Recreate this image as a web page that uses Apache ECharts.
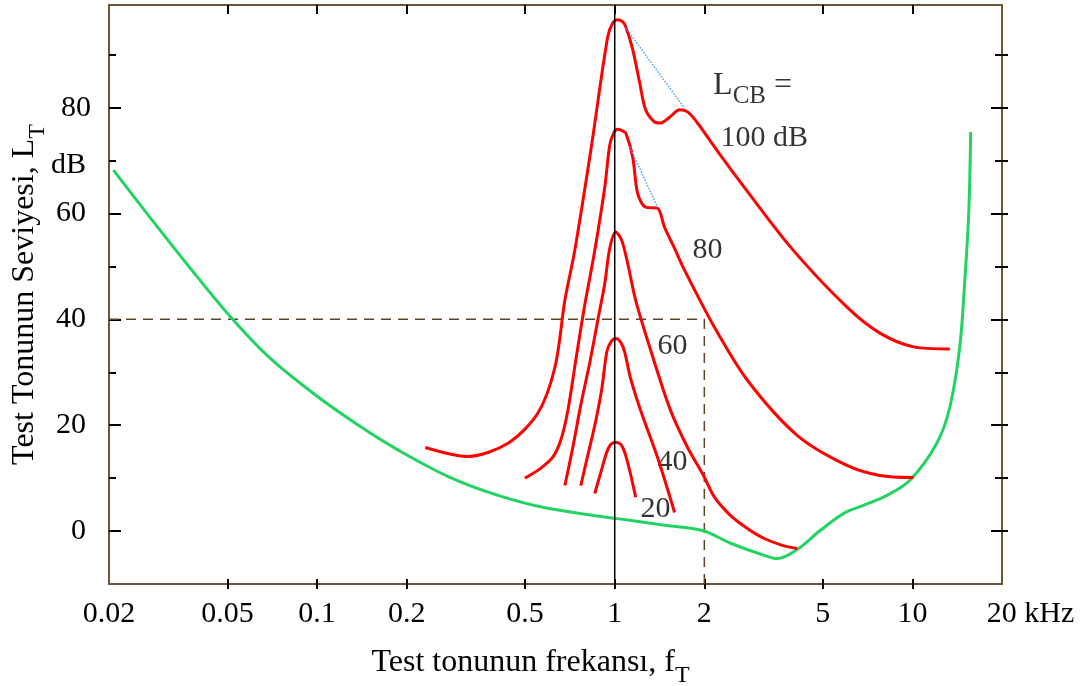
<!DOCTYPE html>
<html><head><meta charset="utf-8">
<script src="https://cdn.jsdelivr.net/npm/echarts@6/dist/echarts.min.js"></script>
<style>html,body{margin:0;padding:0;background:#fff}#c{width:1085px;height:686px}</style>
</head><body><div id="c"></div>
<script>
// ---- data (frequency in kHz, level in dB) ----
const xTickValues = [0.02, 0.05, 0.1, 0.2, 0.5, 1, 2, 5, 10, 20];
const xTickLabels = ['0.02', '0.05', '0.1', '0.2', '0.5', '1', '2', '5', '10', '20 kHz'];
const xInnerTicks = [0.05, 0.1, 0.2, 0.5, 1, 2, 5, 10];
const yMajorTicks = [0, 20, 40, 60, 80];
const yMinorTicks = [10, 30, 50, 70, 90];
const yLabelValues = [0, 20, 40, 60, 69.2];
const yLabelTexts = ['0', '20', '40', '60', 'dB'];

const thresholdFreq  = [0.0207, 0.02725, 0.0371, 0.0517, 0.0688, 0.098, 0.1377, 0.1875, 0.276, 0.4055, 0.596, 1.008, 1.47, 1.97, 2.45, 3.18, 3.52, 4.1, 4.9, 5.9, 6.88, 8.21, 9.81, 12.08, 13.36, 14.42, 15.0, 15.46, 15.7];
const thresholdLevel = [68.2, 59.5, 50.0, 40.2, 32.9, 25.85, 20.0, 15.3, 10.3, 6.75, 4.3, 2.4, 1.1, 0.1, -2.3, -4.6, -5.2, -3.5, 0.1, 3.4, 4.9, 6.75, 9.6, 16.6, 23.4, 34.7, 47.4, 60.0, 75.4];

const mask100Freq  = [0.231, 0.322, 0.438, 0.552, 0.63, 0.68, 0.734, 0.831, 0.947, 0.985, 1.023, 1.064, 1.089, 1.149, 1.213, 1.27, 1.361, 1.426, 1.529, 1.651, 1.757, 1.897, 2.163, 2.583, 3.89, 6.03, 7.78, 10.1, 13.36];
const mask100Level = [15.8, 14.1, 16.6, 22.3, 31.0, 43.6, 53.0, 71.9, 93.4, 96.0, 96.6, 96.2, 95.3, 91.0, 84.7, 79.6, 77.3, 77.1, 78.2, 79.6, 79.2, 77.1, 72.6, 66.7, 53.7, 42.3, 37.4, 34.8, 34.4];

const mask80Freq  = [0.4995, 0.565, 0.62, 0.659, 0.696, 0.74, 0.793, 0.857, 0.926, 0.962, 0.992, 1.023, 1.064, 1.089, 1.149, 1.194, 1.27, 1.393, 1.47, 1.589, 1.716, 2.163, 2.79, 4.1, 6.03, 7.78, 10.1];
const mask80Level = [10.0, 11.9, 14.0, 17.2, 22.8, 32.3, 42.7, 53.0, 65.0, 72.9, 75.2, 75.9, 75.6, 75.2, 70.7, 63.8, 61.2, 61.0, 57.4, 53.4, 49.3, 38.5, 28.5, 18.1, 12.4, 10.5, 10.1];

const mask60Freq  = [0.68, 0.723, 0.769, 0.825, 0.877, 0.926, 0.962, 1.008, 1.056, 1.105, 1.176, 1.32, 1.54, 1.757, 1.987, 2.163, 2.447, 2.79, 3.18, 3.66, 4.1];
const mask60Level = [8.6, 15.8, 23.8, 31.9, 39.8, 46.8, 53.4, 56.5, 54.9, 50.6, 43.6, 34.2, 22.8, 15.8, 10.5, 6.4, 2.97, 0.5, -1.4, -2.7, -3.3];

const mask40Freq  = [0.769, 0.812, 0.864, 0.905, 0.94, 0.97, 1.008, 1.047, 1.08, 1.131, 1.222, 1.393, 1.589];
const mask40Level = [8.6, 14.3, 20.9, 26.9, 33.8, 35.7, 36.4, 35.7, 33.8, 28.8, 22.8, 13.9, 3.5];

const mask20Freq  = [0.857, 0.898, 0.94, 0.97, 1.008, 1.047, 1.08, 1.123, 1.176];
const mask20Level = [7.1, 11.1, 14.9, 16.4, 16.8, 16.4, 14.9, 11.4, 6.4];

const guideFreq  = [0.02, 2, 2];
const guideLevel = [40, 40, -10];

const slope100Freq  = [1.089, 1.716];
const slope100Level = [95.1, 79.9];
const slope80Freq   = [1.123, 1.393];
const slope80Level  = [72.6, 61.2];

const refFreq  = [1, 1];
const refLevel = [-10, 99.4];

const curveLabels    = ['80', '60', '40', '20', '100 dB'];
const curveLabelFreq = [2.05, 1.564, 1.564, 1.372, 3.18];
const curveLabelLvl  = [53.0, 34.9, 13.0, 4.1, 74.3];
const legendLabelFreq = 2.14, legendLabelLvl = 84.1;

// ---- build ----
const LOGF = v => Math.log10(v);
const pairs = (fs, ls) => fs.map((f, i) => [LOGF(f), ls[i]]);
const FONT = 'Liberation Serif';
const BROWN = '#6b5735';
const XMIN = LOGF(0.02), XMAX = LOGF(20), YMIN = -10, YMAX = 99.4;

const chart = echarts.init(document.getElementById('c'), null, {renderer: 'canvas'});

const xBase = {type: 'value', min: XMIN, max: XMAX, splitLine: {show: false}, gridIndex: 0};
const yBase = {type: 'value', min: YMIN, max: YMAX, splitLine: {show: false}, gridIndex: 0};
const tickStyle = {color: '#000', width: 2};
const noLabel = {show: false};
const noLine = {show: false, onZero: false};
const frameLine = {show: true, onZero: false, lineStyle: {color: BROWN, width: 2}};

function xLabelFmt(v) {
  const i = xTickValues.findIndex(t => Math.abs(LOGF(t) - v) < 1e-6);
  if (i < 0) return '';
  return i === xTickValues.length - 1 ? '{p|}{t|20 kHz}' : xTickLabels[i];
}
function yLabelFmt(v) {
  const i = yLabelValues.findIndex(t => Math.abs(t - v) < 1e-6);
  return i < 0 ? '' : yLabelTexts[i];
}
const nameRich = {
  n: {fontSize: 32, fontFamily: FONT, color: '#000', lineHeight: 32, verticalAlign: 'top'},
  s: {fontSize: 24, fontFamily: FONT, color: '#000', lineHeight: 32, verticalAlign: 'top', padding: [17, 0, 0, 0]}
};

const redLine = {color: '#ff0000', width: 3};
function curve(fs, ls, style, smooth) {
  return {type: 'line', data: pairs(fs, ls), showSymbol: false, symbol: 'none', smooth: smooth,
          lineStyle: style, silent: true, animation: false};
}

const option = {
  animation: false,
  backgroundColor: '#fff',
  grid: {left: 109, right: 83, top: 5, bottom: 102, containLabel: false, outerBoundsMode: 'none'},
  xAxis: [
    Object.assign({}, xBase, {
      position: 'bottom', axisLine: frameLine,
      axisTick: {show: true, inside: false, length: 5, customValues: xInnerTicks.map(LOGF), lineStyle: tickStyle},
      axisLabel: {show: true, customValues: xTickValues.map(LOGF), formatter: xLabelFmt, margin: 15,
        fontSize: 30, fontFamily: FONT, color: '#000',
        rich: {p: {width: 57, fontSize: 30, fontFamily: FONT}, t: {fontSize: 30, fontFamily: FONT, color: '#000'}}},
      name: '{n|Test tonunun frekansı, f}{s|T}', nameLocation: 'middle', nameGap: 63, nameMoveOverlap: false,
      nameTextStyle: {padding: [0, 50, 0, 0], rich: nameRich}
    }),
    Object.assign({}, xBase, {
      position: 'bottom', axisLine: noLine, axisLabel: noLabel,
      axisTick: {show: true, inside: true, length: 5, customValues: xInnerTicks.map(LOGF), lineStyle: tickStyle}
    }),
    Object.assign({}, xBase, {
      position: 'top', axisLabel: noLabel, axisLine: frameLine,
      axisTick: {show: true, inside: true, length: 9, customValues: xInnerTicks.map(LOGF), lineStyle: tickStyle}
    })
  ],
  yAxis: [
    Object.assign({}, yBase, {
      position: 'left', axisLine: frameLine,
      axisTick: {show: true, inside: true, length: 12, customValues: yMajorTicks, lineStyle: tickStyle},
      axisLabel: {show: true, customValues: yLabelValues, formatter: yLabelFmt, margin: 23,
        fontSize: 30, fontFamily: FONT, color: '#000'},
      name: '{n|Test Tonunun Seviyesi, L}{s|T}', nameLocation: 'middle', nameGap: 68, nameRotate: 90,
      nameMoveOverlap: false,
      nameTextStyle: {rich: nameRich}
    }),
    Object.assign({}, yBase, {
      position: 'left', axisLine: noLine,
      axisTick: {show: true, inside: true, length: 7, customValues: yMinorTicks, lineStyle: tickStyle},
      axisLabel: {show: true, customValues: [80], formatter: v => '80', margin: 18,
        fontSize: 30, fontFamily: FONT, color: '#000'}
    }),
    Object.assign({}, yBase, {
      position: 'right', axisLabel: noLabel, axisLine: frameLine,
      axisTick: {show: true, inside: true, length: 11, customValues: yMajorTicks, lineStyle: tickStyle}
    }),
    Object.assign({}, yBase, {
      position: 'right', axisLabel: noLabel, axisLine: noLine,
      axisTick: {show: true, inside: true, length: 7, customValues: yMinorTicks, lineStyle: tickStyle}
    }),
    Object.assign({}, yBase, {
      position: 'right', axisLabel: noLabel, axisLine: noLine,
      axisTick: {show: true, inside: false, length: 6, customValues: yMajorTicks.concat(yMinorTicks), lineStyle: tickStyle}
    })
  ],
  series: [
    curve(guideFreq, guideLevel, {color: '#5a4526', width: 1.5, type: [10, 7]}, false),
    curve(thresholdFreq, thresholdLevel, {color: '#22d362', width: 3}, 0.35),
    curve(mask100Freq, mask100Level, redLine, 0.3),
    curve(mask80Freq, mask80Level, redLine, 0.3),
    curve(mask60Freq, mask60Level, redLine, 0.3),
    curve(mask40Freq, mask40Level, redLine, 0.3),
    curve(mask20Freq, mask20Level, redLine, 0.3),
    curve(slope100Freq, slope100Level, {color: '#4d9dff', width: 1.5, type: 'dotted'}, false),
    curve(slope80Freq, slope80Level, {color: '#4d9dff', width: 1.5, type: 'dotted'}, false),
    curve(refFreq, refLevel, {color: '#000', width: 1.5}, false),
    {
      type: 'scatter', symbolSize: 0, silent: true, animation: false,
      label: {show: true, position: 'inside', formatter: p => p.name, fontSize: 30, fontFamily: FONT,
        color: '#000', textBorderWidth: 0},
      data: curveLabels.map((t, i) => ({name: t, value: [LOGF(curveLabelFreq[i]), curveLabelLvl[i]]})).concat([{
        name: '{n|L}{s|CB}{n| =}', value: [LOGF(legendLabelFreq), legendLabelLvl],
        label: {position: 'right', distance: 0, rich: {
          n: {fontSize: 32, fontFamily: FONT, color: '#000', lineHeight: 32, verticalAlign: 'top'},
          s: {fontSize: 25, fontFamily: FONT, color: '#000', lineHeight: 32, verticalAlign: 'top', padding: [14, 0, 0, 0]}}}
      }])
    }
  ]
};
chart.setOption(option);
</script></body></html>
